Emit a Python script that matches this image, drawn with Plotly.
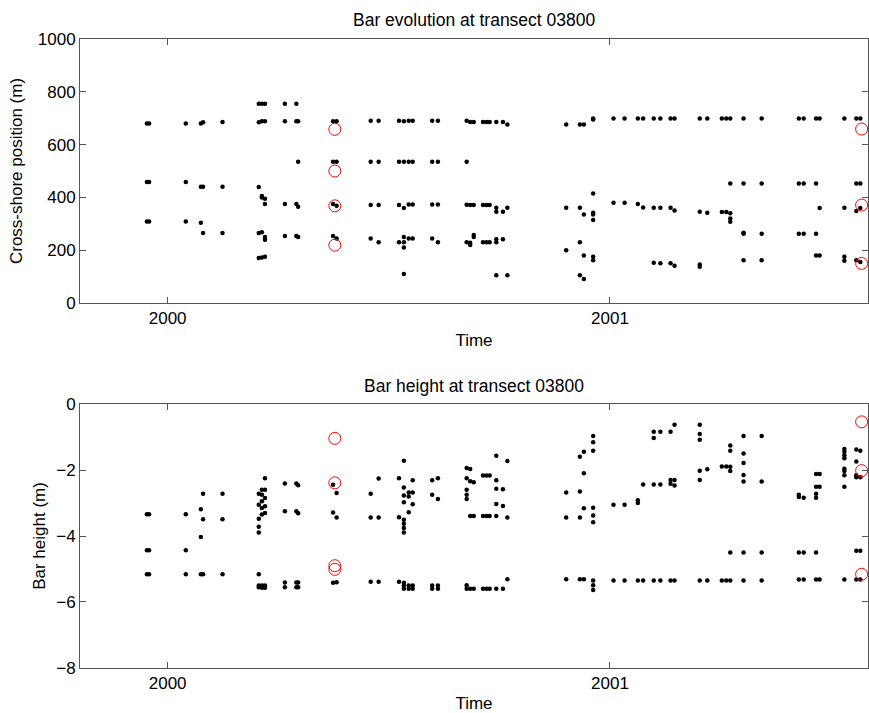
import plotly.graph_objects as go

# Survey times (decimal years)
survey_times = [
    1999.953, 1999.958, 2000.041, 2000.075, 2000.080, 2000.124,
    2000.206, 2000.213, 2000.220, 2000.265, 2000.291, 2000.295,
    2000.374, 2000.382, 2000.459, 2000.477, 2000.523, 2000.534,
    2000.545, 2000.554, 2000.598, 2000.611, 2000.676, 2000.684,
    2000.692, 2000.713, 2000.721, 2000.728, 2000.743, 2000.758,
    2000.768, 2000.901, 2000.932, 2000.941, 2000.962, 2001.008,
    2001.033, 2001.063, 2001.075, 2001.099, 2001.114, 2001.137,
    2001.146, 2001.203, 2001.220, 2001.253, 2001.263, 2001.272,
    2001.302, 2001.343, 2001.427, 2001.438, 2001.466, 2001.474,
    2001.530, 2001.557, 2001.566,
]

# Cross-shore bar positions (m) per survey
bar_positions = [
    [680, 458, 309], [680, 458, 309], [680, 458, 309], [680, 440, 304],
    [685, 440, 265], [686, 440, 265],
    [755, 685, 439, 265, 170], [755, 688, 405, 400, 268, 172],
    [755, 688, 395, 375, 250, 240, 175], [755, 688, 375, 254],
    [755, 688, 375, 254], [688, 535, 365, 250],
    [688, 535, 375, 254], [688, 535, 368, 244], [690, 535, 371, 244],
    [690, 535, 371, 230], [690, 535, 371, 230],
    [688, 535, 360, 250, 230, 210, 110],
    [690, 535, 373, 244], [690, 535, 373, 244], [690, 535, 373, 244],
    [690, 535, 373, 230], [690, 535, 372, 230], [686, 371, 220, 228],
    [686, 371, 250, 258], [686, 371, 230], [686, 371, 230], [686, 371, 230],
    [686, 361, 346, 241, 230, 105], [686, 346, 241],
    [676, 361, 105], [676, 361, 200], [676, 361, 230, 105],
    [676, 335, 180, 91], [699, 695, 415, 342, 335, 314, 175, 162],
    [699, 380], [699, 380], [699, 375], [699, 362], [699, 361, 152],
    [699, 361, 151], [699, 361, 151], [699, 350, 141],
    [699, 346, 146, 137], [699, 342], [699, 345], [699, 345],
    [699, 453, 340, 320, 308], [699, 453, 266, 262, 162],
    [699, 453, 262, 162], [699, 453, 262], [699, 453, 262],
    [699, 453, 262, 180], [699, 360, 180], [699, 361, 175, 160],
    [699, 453, 348, 162], [699, 453, 360, 155],
]

# Bar heights (m) per survey
bar_heights = [
    [-3.34, -4.43, -5.16], [-3.34, -4.43, -5.16], [-3.34, -4.43, -5.16],
    [-3.19, -4.03, -5.16], [-2.72, -3.49, -5.16], [-2.72, -3.49, -5.16],
    [-2.72, -3.05, -3.48, -3.72, -3.89, -5.16, -5.50, -5.55],
    [-2.60, -2.75, -2.95, -3.15, -3.35, -5.50, -5.57],
    [-2.25, -2.60, -2.85, -3.10, -3.30, -5.50, -5.57],
    [-2.41, -3.25, -5.41, -5.55], [-2.41, -3.25, -5.41, -5.55],
    [-2.46, -3.31, -5.41, -5.55],
    [-2.45, -3.29, -5.42], [-2.70, -3.44, -5.40], [-2.72, -3.44, -5.39],
    [-2.26, -3.44, -5.39], [-2.25, -3.43, -5.39],
    [-1.72, -2.53, -2.77, -2.98, -3.51, -3.63, -3.76, -3.89, -5.42, -5.50, -5.60],
    [-2.68, -2.80, -3.28, -5.50, -5.60], [-2.31, -2.68, -3.04, -5.50, -5.60],
    [-2.31, -2.75, -5.50, -5.60], [-2.25, -2.88, -5.50, -5.60],
    [-1.94, -2.25, -2.60, -2.75, -2.88, -5.49, -5.60],
    [-1.97, -2.34, -3.39, -5.60], [-2.37, -3.39, -5.60],
    [-2.17, -3.39, -5.60], [-2.17, -3.39, -5.60], [-2.17, -3.39, -5.60],
    [-1.57, -2.31, -2.57, -3.03, -3.39, -5.60], [-2.58, -3.09, -5.60],
    [-1.73, -3.44, -5.31], [-2.68, -3.44, -5.31],
    [-1.60, -2.65, -3.44, -5.31], [-1.45, -2.10, -3.16, -5.31],
    [-0.97, -1.16, -1.42, -3.14, -3.38, -3.58, -5.35, -5.49, -5.64],
    [-3.05, -5.35], [-3.05, -5.35], [-2.92, -3.00, -5.35], [-2.44, -5.35],
    [-0.84, -1.03, -2.44, -5.35], [-0.84, -2.44, -5.35],
    [-0.84, -2.30, -2.42, -5.35], [-0.63, -2.30, -2.47, -5.35],
    [-0.63, -0.91, -1.08, -2.02, -2.30, -5.35], [-1.98, -5.35],
    [-1.89, -5.35], [-1.89, -5.35],
    [-1.26, -1.42, -1.90, -2.03, -4.50, -5.35],
    [-0.97, -1.50, -1.79, -2.15, -2.35, -4.50, -5.35],
    [-0.97, -2.35, -4.50, -5.35], [-2.75, -2.82, -4.50, -5.32],
    [-2.84, -4.50, -5.32], [-2.12, -2.51, -2.72, -2.84, -4.50, -5.32],
    [-2.12, -2.51, -5.32],
    [-1.36, -1.45, -1.55, -1.64, -1.96, -2.03, -2.16, -2.51, -5.32],
    [-1.38, -1.74, -2.16, -2.22, -4.45, -5.32], [-1.42, -2.22, -4.45, -5.32],
]

# Highlighted (red circle) surveys
red_times = [2000.378, 2001.569]
red_positions = [[658, 500, 368, 219], [659, 371, 150]]
red_heights = [[-1.04, -2.39, -4.90, -5.01], [-0.54, -2.02, -5.16]]

x_ticks = [2000, 2001]
x_tick_labels = ["2000", "2001"]
x_range = [1999.8018, 2001.5834]


def flatten(times, values):
    xs, ys = [], []
    for t, vals in zip(times, values):
        for v in vals:
            xs.append(t)
            ys.append(v)
    return xs, ys


px, py = flatten(survey_times, bar_positions)
hx, hy = flatten(survey_times, bar_heights)
rpx, rpy = flatten(red_times, red_positions)
rhx, rhy = flatten(red_times, red_heights)

FONT = "Liberation Sans"
dot = dict(color="black", size=4.5)
ring = dict(size=12, symbol="circle-open", color="#ff0000", line=dict(width=1))

fig = go.Figure()
fig.add_trace(go.Scatter(x=px, y=py, mode="markers", marker=dot,
                         xaxis="x", yaxis="y", showlegend=False))
fig.add_trace(go.Scatter(x=rpx, y=rpy, mode="markers", marker=ring,
                         xaxis="x", yaxis="y", showlegend=False))
fig.add_trace(go.Scatter(x=hx, y=hy, mode="markers", marker=dot,
                         xaxis="x2", yaxis="y2", showlegend=False))
fig.add_trace(go.Scatter(x=rhx, y=rhy, mode="markers", marker=ring,
                         xaxis="x2", yaxis="y2", showlegend=False))

axis_common = dict(showline=True, linecolor="#555", linewidth=1, mirror="ticks",
                   ticks="inside", ticklen=6, tickcolor="#555", showgrid=False,
                   zeroline=False, tickfont=dict(size=17, color="black", family=FONT))
title_font = dict(size=17, family=FONT, color="black")

fig.update_layout(
    width=869, height=713,
    margin=dict(l=80, r=1, t=39, b=45),
    paper_bgcolor="white", plot_bgcolor="white",
    font=dict(family=FONT, size=17, color="black"),
    xaxis=dict(domain=[0, 1], range=x_range, tickvals=x_ticks, ticktext=x_tick_labels,
               anchor="y", title=dict(text="Time", standoff=6, font=title_font),
               **axis_common),
    yaxis=dict(domain=[0.5803, 1], range=[0, 1000], tickvals=[0, 200, 400, 600, 800, 1000],
               anchor="x", title=dict(text="Cross-shore position (m)", standoff=10,
                                      font=title_font),
               **axis_common),
    xaxis2=dict(domain=[0, 1], range=x_range, tickvals=x_ticks, ticktext=x_tick_labels,
                anchor="y2", title=dict(text="Time", standoff=7, font=title_font),
                **axis_common),
    yaxis2=dict(domain=[0, 0.4197], range=[-8, 0], tickvals=[-8, -6, -4, -2, 0],
                anchor="x2", title=dict(text="Bar height (m)", standoff=6,
                                        font=title_font),
                **axis_common),
    annotations=[
        dict(text="Bar evolution at transect 03800", x=0.5, y=(668 - 20) / 629,
             xref="paper", yref="paper", showarrow=False, xanchor="center",
             yanchor="middle", font=dict(size=17.5, family=FONT)),
        dict(text="Bar height at transect 03800", x=0.5, y=(668 - 386) / 629,
             xref="paper", yref="paper", showarrow=False, xanchor="center",
             yanchor="middle", font=dict(size=17.5, family=FONT)),
    ],
)

fig.write_html("out.html")
